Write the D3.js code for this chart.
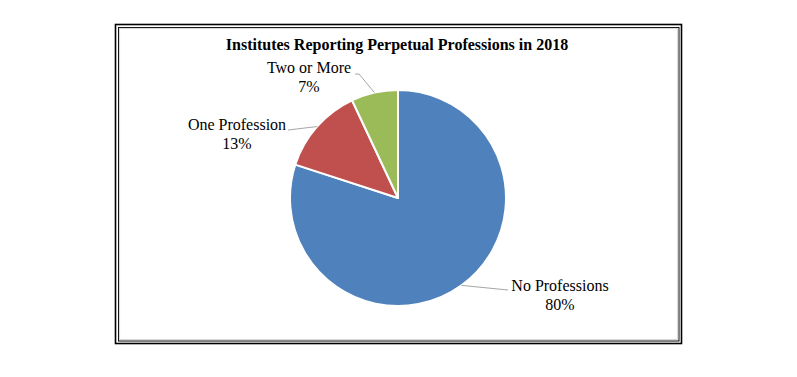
<!DOCTYPE html>
<html><head><meta charset="utf-8">
<script src="https://cdn.jsdelivr.net/npm/d3@7"></script>
<style>body{margin:0;background:#fff}svg{display:block}</style>
</head><body>
<svg id="c" width="797" height="377"></svg>
<script>
const title = "Institutes Reporting Perpetual Professions in 2018";
const categories = ["No Professions", "One Profession", "Two or More"];
const values = [80, 13, 7];
const pctLabels = ["80%", "13%", "7%"];
const colors = ["#4F81BD", "#C0504D", "#9BBB59"];

// layout (label anchor offsets relative to pie centre, text anchor, leader elbow)
const labelLayout = [
  {dx: 162, dy: 93, anchor: "middle", tx: 110, ty: 92},
  {dx: -161, dy: -68, anchor: "middle", tx: -110, ty: -68},
  {dx: -89, dy: -125, anchor: "middle", tx: -43, ty: -124, elbow: [-39, -124]}
];

const svg = d3.select("#c");
const font = "'Liberation Serif','Times New Roman',serif";

// frame
svg.append("rect").attr("x",115.5).attr("y",24.5).attr("width",566).attr("height",319)
  .attr("fill","none").attr("stroke","#000").attr("stroke-width",1.6);
svg.append("rect").attr("x",118.5).attr("y",27.5).attr("width",560.5).attr("height",313.5)
  .attr("fill","none").attr("stroke","#000").attr("stroke-width",1);
svg.append("rect").attr("x",119.5).attr("y",28.5).attr("width",558).attr("height",311)
  .attr("fill","none").attr("stroke","#d9d9d9").attr("stroke-width",1.2);

svg.append("text").attr("x",397).attr("y",50).attr("text-anchor","middle")
  .attr("font-family",font).attr("font-weight","bold").attr("font-size",16)
  .attr("fill","#000").text(title);

const cx = 398, cy = 198, r = 108;
const g = svg.append("g").attr("transform",`translate(${cx},${cy})`);
const pie = d3.pie().sort(null).value(d=>d)(values);
const arc = d3.arc().innerRadius(0).outerRadius(r);

g.selectAll("path.slice").data(pie).join("path").attr("class","slice")
  .attr("d",arc).attr("fill",(d,i)=>colors[i])
  .attr("stroke","#fff").attr("stroke-width",2).attr("stroke-linejoin","round");

pie.forEach((d,i)=>{
  const a = (d.startAngle+d.endAngle)/2;
  const px = r*Math.sin(a), py = -r*Math.cos(a);
  const L = labelLayout[i];
  const pts = [[px,py]];
  if (L.elbow) pts.push(L.elbow);
  pts.push([L.tx, L.ty]);
  g.append("path").attr("d", d3.line()(pts)).attr("fill","none")
    .attr("stroke","#a6a6a6").attr("stroke-width",1);
  const t = g.append("text").attr("text-anchor",L.anchor)
    .attr("font-family",font).attr("font-size",16).attr("fill","#000");
  t.append("tspan").attr("x",L.dx).attr("y",L.dy).text(categories[i]);
  t.append("tspan").attr("x",L.dx).attr("y",L.dy+19).text(pctLabels[i]);
});
</script>
</body></html>
